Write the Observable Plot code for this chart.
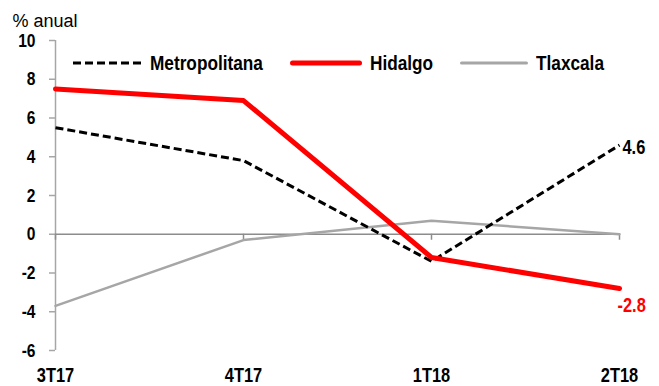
<!DOCTYPE html>
<html>
<head>
<meta charset="utf-8">
<script src="https://cdn.jsdelivr.net/npm/d3@7"></script>
<script src="https://cdn.jsdelivr.net/npm/@observablehq/plot@0.6"></script>
<style>
  html, body { margin: 0; padding: 0; background: #fff; }
  #wrap { position: relative; width: 659px; height: 386px; overflow: hidden; }
  .legend { position: absolute; top: 52px; left: 0; height: 22px; width: 659px;
    font-family: "Liberation Sans", Arial, sans-serif;
    font-weight: bold; font-size: 21px; color: #000; }
  .item { position: absolute; top: 0; display: flex; align-items: center; height: 22px; white-space: nowrap; }
  .item svg { display: block; margin-right: 8px; }
  .item span { display: inline-block; transform: scaleX(0.82); transform-origin: left center; }
</style>
</head>
<body>
<div id="wrap"></div>
<script>
const periods = ["3T17", "4T17", "1T18", "2T18"];
const metropolitana = [5.5, 3.8, -1.4, 4.6];
const hidalgo = [7.5, 6.9, -1.2, -2.8];
const tlaxcala = [-3.7, -0.3, 0.7, 0.0];
const yTicks = [-6, -4, -2, 0, 2, 4, 6, 8, 10];
const seriesNames = ["Metropolitana", "Hidalgo", "Tlaxcala"];
const yLabel = "% anual";

const seriesValues = {Metropolitana: metropolitana, Hidalgo: hidalgo, Tlaxcala: tlaxcala};
const rows = seriesNames.flatMap(s => periods.map((p, i) => ({series: s, period: p, value: seriesValues[s][i]})));
const of = s => rows.filter(d => d.series === s);
const lastOf = s => of(s).slice(-1);

const sans = '"Liberation Sans", Arial, sans-serif';

const chart = Plot.plot({
  width: 659,
  height: 386,
  marginLeft: 55,
  marginRight: 40,
  marginTop: 40,
  marginBottom: 36,
  style: {fontFamily: sans, fontSize: "19px", fontWeight: "bold", color: "#000", background: "#fff"},
  x: {type: "point", domain: periods, padding: 0},
  y: {domain: [-6, 10]},
  marks: [
    Plot.ruleX([periods[0]], {stroke: "#a6a6a6", strokeWidth: 1.5}),
    Plot.axisY({ticks: yTicks, tickSize: 6, tickPadding: 14, stroke: "#a6a6a6", strokeWidth: 1.5, label: null, tickFormat: d => String(d)}),
    Plot.axisX({tickSize: 0, tickPadding: 17, label: null, fontSize: 20}),
    Plot.ruleY([0], {stroke: "#8c8c8c", strokeWidth: 1.5}),
    Plot.ruleX(periods, {x: d => d, y1: 0, y2: 0, insetBottom: -6, stroke: "#8c8c8c", strokeWidth: 1.5}),
    Plot.line(of("Tlaxcala"), {x: "period", y: "value", stroke: "#a6a6a6", strokeWidth: 2.5}),
    Plot.line(of("Metropolitana"), {x: "period", y: "value", stroke: "#000", strokeWidth: 3, strokeDasharray: "8,4", strokeLinecap: "butt"}),
    Plot.line(of("Hidalgo"), {x: "period", y: "value", stroke: "#ff0000", strokeWidth: 5}),
    Plot.text(lastOf("Metropolitana"), {x: "period", y: "value", text: d => d.value.toFixed(1), textAnchor: "start", dx: 3, dy: 2, fontSize: 20, fill: "#000"}),
    Plot.text(lastOf("Hidalgo"), {x: "period", y: "value", text: d => d.value.toFixed(1), textAnchor: "start", dx: -2, dy: 17, fontSize: 20, fill: "#ff0000"}),
    Plot.text([yLabel], {frameAnchor: "top-left", text: d => d, textAnchor: "start", dx: -43, dy: -26, fontWeight: "normal", fontSize: 18, fill: "#000"})
  ]
});
document.getElementById("wrap").appendChild(chart);

// condense the bold labels (Arial Narrow look)
for (const t of chart.querySelectorAll("text")) {
  if (t.textContent === yLabel) continue;
  const L = t.getComputedTextLength();
  if (L > 0) {
    t.setAttribute("textLength", (L * 0.82).toFixed(2));
    t.setAttribute("lengthAdjust", "spacingAndGlyphs");
  }
}

// legend overlay
const legendStyles = {
  Metropolitana: {left: 73, len: 69, stroke: "#000", width: 3, dash: "8,4", cap: "butt"},
  Hidalgo: {left: 290, len: 72, stroke: "#ff0000", width: 5, dash: null, cap: "round"},
  Tlaxcala: {left: 460, len: 68, stroke: "#a6a6a6", width: 3, dash: null, cap: "round"}
};
const legend = document.createElement("div");
legend.className = "legend";
for (const s of seriesNames) {
  const st = legendStyles[s];
  const item = document.createElement("div");
  item.className = "item";
  item.style.left = st.left + "px";
  item.innerHTML = `<svg width="${st.len}" height="10"><line x1="${st.cap === "round" ? st.width/2 : 0}" x2="${st.cap === "round" ? st.len - st.width/2 : st.len}" y1="5" y2="5" stroke="${st.stroke}" stroke-width="${st.width}" ${st.dash ? `stroke-dasharray="${st.dash}"` : ""} stroke-linecap="${st.cap}"/></svg><span>${s}</span>`;
  legend.appendChild(item);
}
document.getElementById("wrap").appendChild(legend);
</script>
</body>
</html>
